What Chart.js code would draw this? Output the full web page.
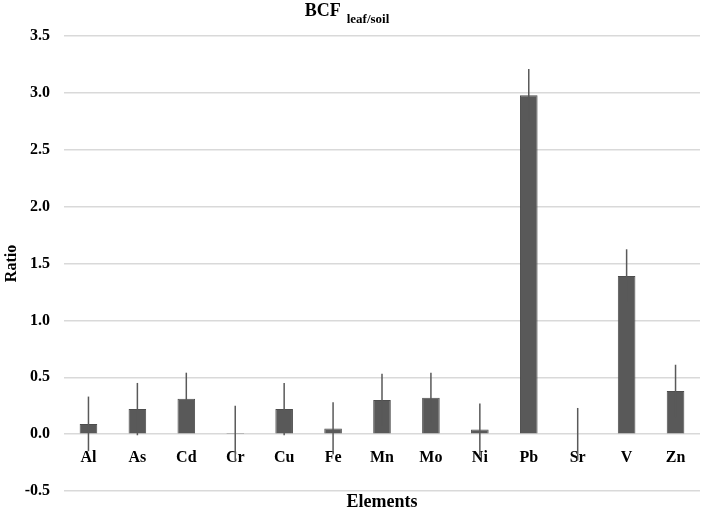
<!DOCTYPE html>
<html>
<head>
<meta charset="utf-8">
<script src="https://cdn.jsdelivr.net/npm/chart.js@4/dist/chart.umd.min.js"></script>
<style>
  html, body { margin: 0; padding: 0; background: #fff; }
  #wrap { width: 702px; height: 513px; }
</style>
</head>
<body>
<div id="wrap"><canvas id="chart"></canvas></div>
<script>
// Datos
const elements = ['Al', 'As', 'Cd', 'Cr', 'Cu', 'Fe', 'Mn', 'Mo', 'Ni', 'Pb', 'Sr', 'V', 'Zn'];
const ratios = [0.09, 0.22, 0.31, 0.01, 0.22, 0.05, 0.30, 0.32, 0.04, 2.98, 0.00, 1.39, 0.38];
const errors = [0.24, 0.23, 0.23, 0.24, 0.23, 0.23, 0.23, 0.22, 0.23, 0.23, 0.23, 0.235, 0.23];
const yMin = -0.5;
const yMax = 3.5;
const yStep = 0.5;

const serif = "'Liberation Serif', 'DejaVu Serif', serif";

// Barras de error (solo líneas, sin remates)
const errorBars = {
    id: 'errorBars',
    afterDatasetsDraw(chart) {
        const ctx = chart.ctx;
        const yScale = chart.scales.y;
        const meta = chart.getDatasetMeta(0);
        ctx.save();
        ctx.strokeStyle = '#595959';
        ctx.lineWidth = 1.5;
        meta.data.forEach((bar, i) => {
            const v = ratios[i];
            const e = errors[i];
            ctx.beginPath();
            ctx.moveTo(bar.x, yScale.getPixelForValue(v + e));
            ctx.lineTo(bar.x, yScale.getPixelForValue(v - e));
            ctx.stroke();
        });
        ctx.restore();
    }
};

// Título con subíndice
const subTitle = {
    id: 'subTitle',
    afterDraw(chart) {
        const ctx = chart.ctx;
        ctx.save();
        ctx.fillStyle = '#000';
        ctx.textBaseline = 'alphabetic';
        const main = 'BCF';
        const sub = 'leaf/soil';
        ctx.font = 'bold 18px ' + serif;
        const w1 = ctx.measureText(main).width;
        ctx.font = 'bold 13px ' + serif;
        const w2 = ctx.measureText(sub).width;
        const gap = 6;
        const x0 = 347 - (w1 + gap + w2) / 2;
        ctx.font = 'bold 18px ' + serif;
        ctx.fillText(main, x0, 16);
        ctx.font = 'bold 13px ' + serif;
        ctx.fillText(sub, x0 + w1 + gap, 23);
        ctx.restore();
    }
};

new Chart(document.getElementById('chart'), {
    type: 'bar',
    data: {
        labels: elements,
        datasets: [{
            label: 'BCF leaf/soil',
            data: ratios,
            backgroundColor: '#595959',
            borderColor: '#4d4d4d',
            borderWidth: 1,
            barPercentage: 0.36,
            categoryPercentage: 1
        }]
    },
    options: {
        responsive: true,
        maintainAspectRatio: false,
        animation: false,
        layout: { padding: { top: 36, right: 2, bottom: 0, left: 0 } },
        plugins: {
            legend: { display: false },
            tooltip: { enabled: false }
        },
        scales: {
            x: {
                position: { y: 0 },
                grid: { display: false, drawTicks: false },
                border: { display: false },
                ticks: {
                    padding: 14,
                    color: '#000',
                    font: { family: serif, size: 16, weight: 'bold' }
                }
            },
            x2: {
                type: 'category',
                labels: elements,
                position: 'bottom',
                grid: { display: false, drawTicks: false },
                border: { display: false },
                ticks: { display: false },
                afterFit: scale => { scale.height = 21; },
                title: {
                    display: true,
                    text: 'Elements',
                    color: '#000',
                    padding: { top: 2, bottom: 0 },
                    font: { family: serif, size: 18, weight: 'bold', lineHeight: 1.05 }
                }
            },
            y: {
                min: yMin,
                max: yMax,
                afterFit: scale => { scale.width = 64; },
                grid: { color: '#d9d9d9', lineWidth: 1.5, drawTicks: false },
                border: { display: false },
                ticks: {
                    stepSize: yStep,
                    padding: 14,
                    color: '#000',
                    font: { family: serif, size: 16, weight: 'bold', lineHeight: 1 },
                    callback: v => v.toFixed(1)
                },
                title: {
                    display: true,
                    text: 'Ratio',
                    color: '#000',
                    padding: { top: 2, bottom: 2 },
                    font: { family: serif, size: 16, weight: 'bold' }
                }
            }
        }
    },
    plugins: [errorBars, subTitle]
});
</script>
</body>
</html>
